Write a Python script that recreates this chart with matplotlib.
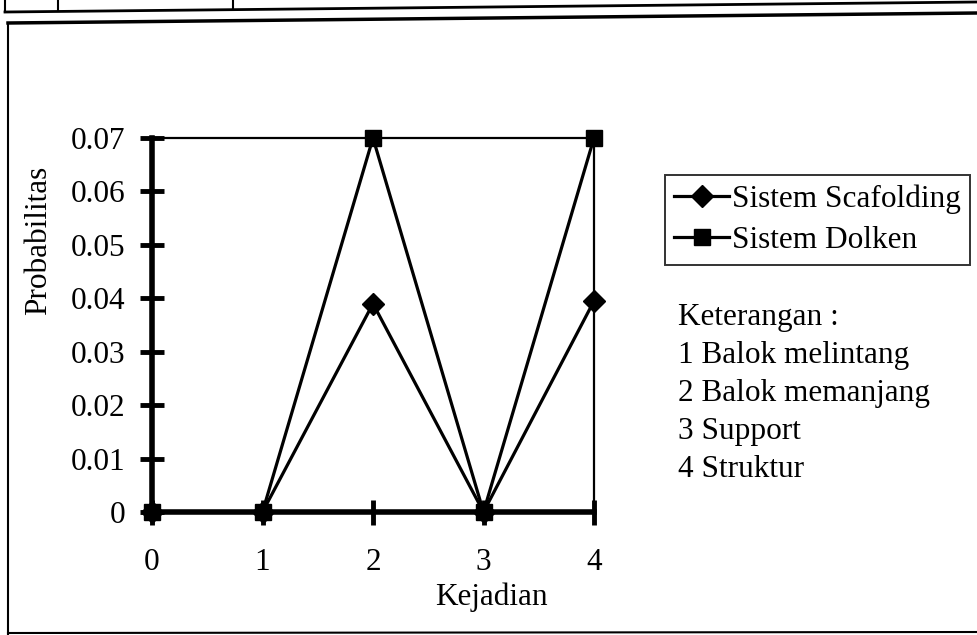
import matplotlib
matplotlib.use("Agg")
import matplotlib.pyplot as plt
from matplotlib.lines import Line2D

plt.rcParams['font.family'] = ['Liberation Serif', 'DejaVu Serif']

kejadian = [0, 1, 2, 3, 4]
scafolding = [0.0, 0.0, 0.039, 0.0, 0.0395]
dolken = [0.0, 0.0, 0.07, 0.0, 0.07]
y_ticks = [0, 0.01, 0.02, 0.03, 0.04, 0.05, 0.06, 0.07]
y_tick_labels = ["0", "0.01", "0.02", "0.03", "0.04", "0.05", "0.06", "0.07"]
legend_labels = ["Sistem Scafolding", "Sistem Dolken"]
keterangan = ["Keterangan :", "1 Balok melintang", "2 Balok memanjang",
              "3 Support", "4 Struktur"]

W, H = 977, 635
fig = plt.figure(figsize=(W / 100, H / 100), dpi=100)
FS = 22.5

def fx(px):
    return px / W

def fy(py):
    return 1 - py / H

ax = fig.add_axes([fx(152), fy(512), fx(594) - fx(152), fy(138) - fy(512)])

ax.plot(kejadian, scafolding, color='black', lw=2.3, marker='D', ms=11,
        clip_on=False, zorder=5, label=legend_labels[0])
ax.plot(kejadian, dolken, color='black', lw=2.3, marker='s', ms=12,
        clip_on=False, zorder=5, label=legend_labels[1])

ax.set_xlim(0, 4)
ax.set_ylim(0, 0.07)
ax.set_xticks(kejadian)
ax.set_yticks(y_ticks)
ax.set_yticklabels(y_tick_labels)
ax.tick_params(axis='y', direction='inout', length=17, width=3.5,
               labelsize=FS, pad=11)
ax.tick_params(axis='x', direction='inout', length=18, width=3.5,
               labelsize=FS, pad=17)
for s in ['left', 'bottom']:
    ax.spines[s].set_linewidth(4)
for s in ['top', 'right']:
    ax.spines[s].set_linewidth(1.6)

fig.text(fx(39), fy(240), "Probabilitas", rotation=90, ha='center',
         va='center', fontsize=FS)
fig.text(fx(491), fy(597), "Kejadian", ha='center', va='center', fontsize=FS)

leg = fig.legend(loc='upper left', bbox_to_anchor=(fx(665), fy(175)),
                 fontsize=FS, frameon=True, fancybox=False, handlelength=1.75,
                 handletextpad=0.1, borderpad=0.3, labelspacing=0.4,
                 borderaxespad=0)
leg.get_frame().set_edgecolor('black')
leg.get_frame().set_linewidth(1.4)

for i, t in enumerate(keterangan):
    fig.text(fx(678), fy(317 + 38.2 * i), t, ha='left', va='center',
             fontsize=FS)

# page frame and table fragment above the chart
frame_lines = [
    ((8, 977), (23, 13), 2.5),
    ((8, 8), (23, 635), 1.5),
    ((8, 977), (633, 632), 1.5),
    ((5, 977), (12, 2), 2.0),
    ((5, 5), (0, 12), 1.5),
    ((58, 58), (0, 11), 1.5),
    ((233, 233), (0, 9), 1.5),
]
for (xs, ys, lw) in frame_lines:
    fig.add_artist(Line2D([fx(x) for x in xs], [fy(y) for y in ys],
                          color='black', lw=lw, transform=fig.transFigure))

fig.savefig("out.png", dpi=100)
